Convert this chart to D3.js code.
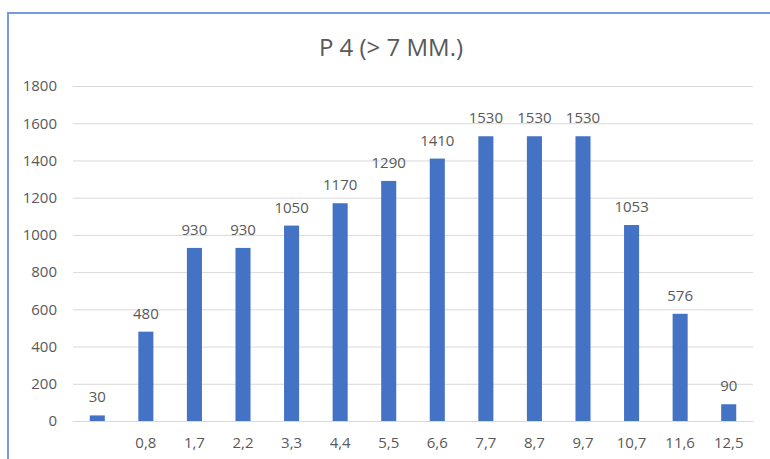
<!DOCTYPE html>
<html>
<head>
<meta charset="utf-8">
<script src="https://cdnjs.cloudflare.com/ajax/libs/d3/7.8.5/d3.min.js"></script>
<style>
  body { margin: 0; background: #ffffff; }
  text { font-family: "Open Sans", sans-serif; fill: #595959; }
</style>
</head>
<body>
<script>
//chart data
var categories = ["", "0,8", "1,7", "2,2", "3,3", "4,4", "5,5", "6,6", "7,7", "8,7", "9,7", "10,7", "11,6", "12,5"];
var values = [30, 480, 930, 930, 1050, 1170, 1290, 1410, 1530, 1530, 1530, 1053, 576, 90];
var yTicks = [0, 200, 400, 600, 800, 1000, 1200, 1400, 1600, 1800];
var chartTitle = "P 4 (> 7 MM.)";

//svg area dimensions
var svgWidth = 770;
var svgHeight = 459;

//plot area margins
var margin = {
    top: 86,
    right: 17,
    bottom: 38,
    left: 73
};

var chartwidth = svgWidth - margin.left - margin.right;
var chartheight = svgHeight - margin.top - margin.bottom;

var svg = d3.select("body")
    .append("svg")
    .attr("width", svgWidth)
    .attr("height", svgHeight);

//chart border (top and left edges visible)
svg.append("path")
    .attr("d", "M8,459 L8,13 L770,13")
    .attr("fill", "none")
    .attr("stroke", "#739be0")
    .attr("stroke-width", 2);

//title
svg.append("text")
    .attr("x", 391)
    .attr("y", 56)
    .attr("text-anchor", "middle")
    .style("font-size", "24px")
    .text(chartTitle);

var chartgroup = svg.append("g")
    .attr("transform", `translate(${margin.left}, ${margin.top})`);

//scales
var xbandscale = d3.scaleBand()
    .domain(d3.range(categories.length))
    .range([0, chartwidth])
    .paddingInner(0.69)
    .paddingOuter(0.345);

var ylinearscale = d3.scaleLinear()
    .domain([0, 1800])
    .range([chartheight, 0]);

//gridlines
var leftaxis = d3.axisLeft(ylinearscale)
    .tickValues(yTicks)
    .tickSize(-chartwidth)
    .tickPadding(16)
    .tickFormat(d3.format("d"));

var yaxisgroup = chartgroup.append("g")
    .call(leftaxis);
yaxisgroup.select(".domain").remove();
yaxisgroup.selectAll(".tick line")
    .attr("stroke", "#d9d9d9")
    .attr("stroke-width", 1);
yaxisgroup.selectAll(".tick text")
    .style("font-size", "15px")
    .attr("fill", "#595959");

//category axis
var bottomaxis = d3.axisBottom(xbandscale)
    .tickSize(0)
    .tickPadding(16)
    .tickFormat(i => categories[i]);

var xaxisgroup = chartgroup.append("g")
    .attr("transform", `translate(0, ${chartheight})`)
    .call(bottomaxis);
xaxisgroup.select(".domain")
    .attr("stroke", "#d9d9d9");
xaxisgroup.selectAll(".tick text")
    .style("font-size", "15px")
    .attr("fill", "#595959");

//bars
chartgroup.selectAll("rect.bar")
    .data(values)
    .enter()
    .append("rect")
    .attr("class", "bar")
    .attr("x", (d, i) => xbandscale(i))
    .attr("y", d => ylinearscale(d))
    .attr("width", xbandscale.bandwidth())
    .attr("height", d => chartheight - ylinearscale(d))
    .attr("fill", "#4472c4");

//data labels
chartgroup.selectAll("text.label")
    .data(values)
    .enter()
    .append("text")
    .attr("class", "label")
    .attr("x", (d, i) => xbandscale(i) + xbandscale.bandwidth() / 2)
    .attr("y", d => ylinearscale(d) - 13)
    .attr("text-anchor", "middle")
    .style("font-size", "15px")
    .text(d => d);
</script>
</body>
</html>
